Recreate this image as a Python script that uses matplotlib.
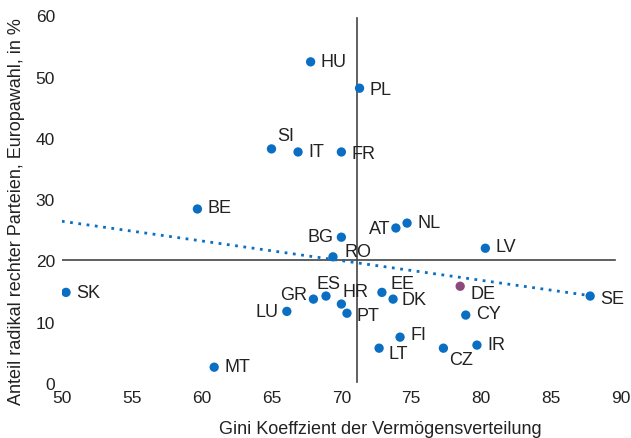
import matplotlib.pyplot as plt

plt.rcParams['font.family'] = ['Liberation Sans', 'DejaVu Sans']

countries = ['HU', 'PL', 'SI', 'IT', 'FR', 'BE', 'AT', 'NL', 'LV', 'BG', 'RO', 'SK', 'GR',
             'ES', 'HR', 'PT', 'LU', 'EE', 'DK', 'DE', 'CY', 'FI', 'LT', 'CZ', 'IR', 'MT', 'SE']
gini = [67.8, 71.3, 65.0, 66.9, 70.0, 59.7, 73.9, 74.7, 80.3, 70.0, 69.4, 50.3, 68.0,
        68.9, 70.0, 70.4, 66.1, 72.9, 73.7, 78.5, 78.9, 74.2, 72.7, 77.3, 79.7, 60.9, 87.8]
rechts = [52.4, 48.1, 38.2, 37.7, 37.7, 28.4, 25.3, 26.1, 22.0, 23.8, 20.6, 14.8, 13.7,
          14.2, 12.9, 11.4, 11.7, 14.8, 13.7, 15.8, 11.1, 7.5, 5.7, 5.7, 6.2, 2.6, 14.2]
trend_x = [50, 88]
trend_y = [26.4, 14.2]
mean_x = 71.1
mean_y = 20

# label placement (pixels) and alignment
offsets = {
    'HU': (10, 0, 'left'), 'PL': (10, -1, 'left'), 'SI': (6, 13, 'left'),
    'IT': (10, 0, 'left'), 'FR': (10, -2, 'left'), 'BE': (10, 1, 'left'),
    'AT': (-5, 0, 'right'), 'NL': (10, 1, 'left'), 'LV': (10, 2, 'left'),
    'BG': (-8, 1, 'right'), 'RO': (12, 5, 'left'), 'SK': (10, 0, 'left'),
    'GR': (-6, 5, 'right'), 'ES': (3, 13, 'center'), 'HR': (1, 13, 'left'),
    'PT': (10, -2, 'left'), 'LU': (-8, 0, 'right'), 'EE': (9, 9, 'left'),
    'DK': (8, 0, 'left'), 'DE': (10, -7, 'left'), 'CY': (10, 2, 'left'),
    'FI': (10, 3, 'left'), 'LT': (9, -5, 'left'), 'CZ': (6, -11, 'left'),
    'IR': (10, 1, 'left'), 'MT': (10, 1, 'left'), 'SE': (10, -2, 'left'),
}

blue = '#0a6fc2'
purple = '#8b4a7c'
txt = '#222222'

fig = plt.figure(figsize=(6.31, 4.39), dpi=100)
ax = fig.add_axes([0.098, 0.125, 0.886, 0.838])

ax.axhline(mean_y, xmin=0, xmax=(89.6 - 50) / 40, color='#444444', lw=1.2, zorder=1)
ax.plot([mean_x, mean_x], [0.2, 59.6], color='#444444', lw=1.2, zorder=1)
ax.plot(trend_x, trend_y, color=blue, lw=2, ls=(0, (1, 2)), zorder=2)

colors = [purple if c == 'DE' else blue for c in countries]
ax.scatter(gini, rechts, s=45, c=colors, zorder=3, linewidths=0)

for c, gx, ry in zip(countries, gini, rechts):
    dx, dy, ha = offsets[c]
    ax.annotate(c, (gx, ry), xytext=(dx, dy), textcoords='offset pixels',
                ha=ha, va='center', fontsize=13, color=txt)

ax.set_xlim(50, 90)
ax.set_ylim(0, 60)
ax.set_xticks([50, 55, 60, 65, 70, 75, 80, 85, 90])
ax.set_yticks([0, 10, 20, 30, 40, 50, 60])
for s in ax.spines.values():
    s.set_visible(False)
ax.tick_params(length=0, labelsize=12.5, colors=txt)
ax.tick_params(axis='x', pad=5)
ax.tick_params(axis='y', pad=5)
ax.set_xlabel('Gini Koeffzient der Vermögensverteilung', fontsize=13, color=txt)
ax.xaxis.set_label_coords(0.569, -0.1)
ax.set_ylabel('Anteil radikal rechter Parteien, Europawahl, in %', fontsize=13, color=txt)
ax.yaxis.set_label_coords(-0.066, 0.47)

fig.savefig('out.png', dpi=100)
